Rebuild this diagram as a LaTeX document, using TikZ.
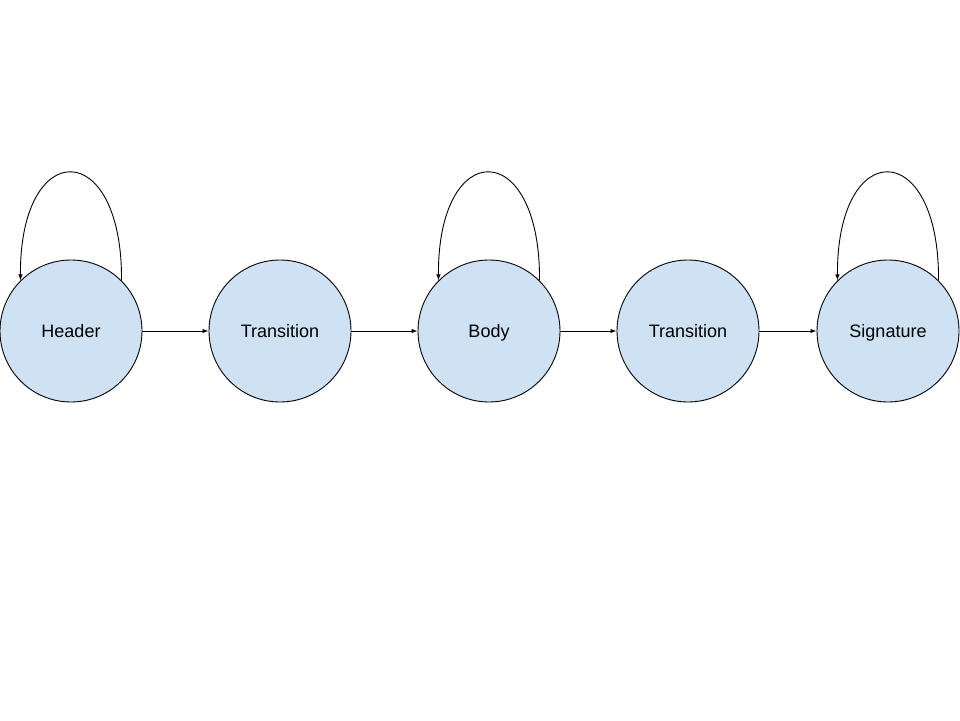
\documentclass[tikz,border=0pt]{standalone}
\usepackage{fontspec}
\setmainfont{Liberation Sans}
\usetikzlibrary{arrows.meta}
\definecolor{statefill}{HTML}{CFE2F3}
\begin{document}
\begin{tikzpicture}[x=1pt,y=-1pt,
  state/.style={circle,draw=black,fill=statefill,line width=0.9pt,minimum size=142pt,inner sep=0pt,text height=13pt,text depth=1pt,font=\fontsize{18}{21}\selectfont},
  arr/.style={-{Latex[length=6pt,width=4.5pt]},line width=0.9pt}]
\useasboundingbox (0,0) rectangle (960,720);
\node[state] (h) at (71,331) {Header};
\node[state] (t1) at (280,331) {Transition};
\node[state] (b) at (489,331) {Body};
\node[state] (t2) at (688,331) {Transition};
\node[state] (s) at (888,331) {Signature};
\draw[arr] (h) -- (t1);
\draw[arr] (t1) -- (b);
\draw[arr] (b) -- (t2);
\draw[arr] (t2) -- (s);
\foreach \n in {h,b,s}{
  \draw[arr] (\n.45) .. controls ([shift={(1,-144)}]\n.45) and ([shift={(-1,-144)}]\n.135) .. (\n.135);
}
\end{tikzpicture}
\end{document}
